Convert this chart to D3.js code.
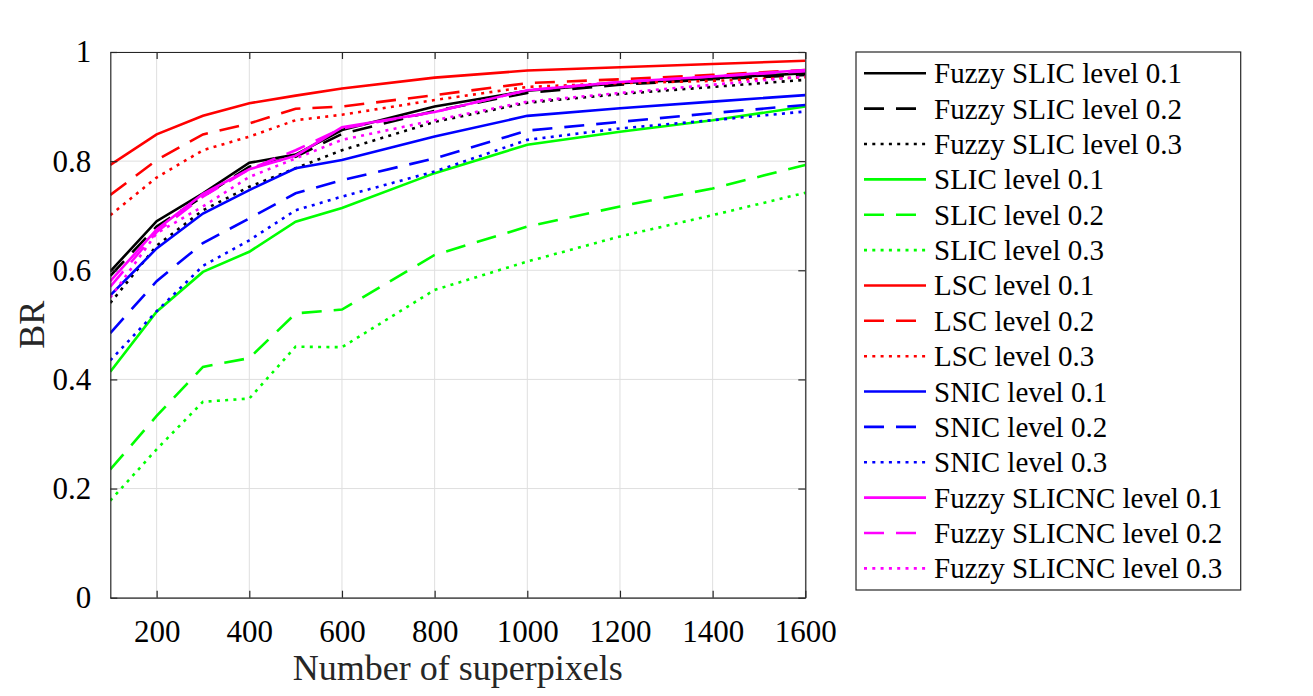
<!DOCTYPE html>
<html>
<head>
<meta charset="utf-8">
</head>
<body style="margin:0;background:#fff;">
<style>
    text {
        font-family: "Liberation Serif", "Times New Roman", serif;
        fill: #000;
    }
    .grid line {
        stroke: #dfdfdf;
        stroke-width: 1px;
    }
    path.series {
        fill: none;
        stroke-width: 2.6px;
    }
</style>
<script src="https://cdn.jsdelivr.net/npm/d3@7/dist/d3.min.js"></script>
<script>

    var xValues = [100, 200, 300, 400, 500, 600, 800, 1000, 1200, 1400, 1600];

    var fuzzySlic1 = [0.598, 0.690, 0.741, 0.797, 0.812, 0.857, 0.900, 0.929, 0.943, 0.952, 0.961];
    var fuzzySlic2 = [0.590, 0.680, 0.735, 0.790, 0.808, 0.850, 0.892, 0.925, 0.940, 0.950, 0.958];
    var fuzzySlic3 = [0.540, 0.645, 0.710, 0.753, 0.787, 0.820, 0.872, 0.907, 0.923, 0.936, 0.949];
    var slic1 = [0.414, 0.524, 0.597, 0.634, 0.689, 0.714, 0.778, 0.830, 0.854, 0.875, 0.900];
    var slic2 = [0.235, 0.333, 0.423, 0.439, 0.521, 0.528, 0.628, 0.680, 0.717, 0.750, 0.793];
    var slic3 = [0.178, 0.272, 0.359, 0.365, 0.460, 0.459, 0.564, 0.616, 0.662, 0.701, 0.742];
    var lsc1 = [0.793, 0.849, 0.883, 0.906, 0.920, 0.933, 0.953, 0.966, 0.972, 0.978, 0.984];
    var lsc2 = [0.738, 0.802, 0.849, 0.869, 0.896, 0.900, 0.921, 0.943, 0.950, 0.958, 0.967];
    var lsc3 = [0.701, 0.770, 0.820, 0.845, 0.875, 0.885, 0.912, 0.936, 0.943, 0.947, 0.954];
    var snic1 = [0.554, 0.640, 0.704, 0.747, 0.787, 0.802, 0.845, 0.883, 0.897, 0.909, 0.921];
    var snic2 = [0.485, 0.580, 0.650, 0.695, 0.741, 0.765, 0.805, 0.856, 0.872, 0.888, 0.903];
    var snic3 = [0.435, 0.525, 0.608, 0.655, 0.710, 0.735, 0.781, 0.839, 0.860, 0.875, 0.891];
    var slicnc1 = [0.580, 0.675, 0.740, 0.785, 0.810, 0.862, 0.890, 0.930, 0.945, 0.955, 0.967];
    var slicnc2 = [0.570, 0.670, 0.735, 0.785, 0.820, 0.860, 0.890, 0.930, 0.945, 0.955, 0.965];
    var slicnc3 = [0.550, 0.668, 0.717, 0.771, 0.805, 0.839, 0.875, 0.909, 0.925, 0.940, 0.955];

    var seriesNames = [
        "Fuzzy SLIC level 0.1", "Fuzzy SLIC level 0.2", "Fuzzy SLIC level 0.3",
        "SLIC level 0.1", "SLIC level 0.2", "SLIC level 0.3",
        "LSC level 0.1", "LSC level 0.2", "LSC level 0.3",
        "SNIC level 0.1", "SNIC level 0.2", "SNIC level 0.3",
        "Fuzzy SLICNC level 0.1", "Fuzzy SLICNC level 0.2", "Fuzzy SLICNC level 0.3"
    ];
    var seriesValues = [
        fuzzySlic1, fuzzySlic2, fuzzySlic3,
        slic1, slic2, slic3,
        lsc1, lsc2, lsc3,
        snic1, snic2, snic3,
        slicnc1, slicnc2, slicnc3
    ];
    var seriesColors = ["#000000", "#00ff00", "#ff0000", "#0000ff", "#ff00ff"];
    var dashStyles = [null, "20,12", "3,5.3"];

    var xTicks = [200, 400, 600, 800, 1000, 1200, 1400, 1600];
    var yTicks = [0, 0.2, 0.4, 0.6, 0.8, 1];
    var yTickLabels = ["0", "0.2", "0.4", "0.6", "0.8", "1"];

    var width = 1313, height = 696;
    // note: "top" is taken by window.top, so use plot* names
    var plotLeft = 110.3, plotRight = 805.3, plotTop = 52, plotBottom = 597.7;

    var svg = d3.select("body").append("svg")
        .attr("width", width)
        .attr("height", height);

    var x = d3.scaleLinear().domain([100, 1600]).range([plotLeft, plotRight]);
    var y = d3.scaleLinear().domain([0, 1]).range([plotBottom, plotTop]);

    // grid
    var grid = svg.append("g").attr("class", "grid");
    grid.selectAll("line.gx").data(xTicks).enter().append("line")
        .attr("x1", x).attr("x2", x).attr("y1", plotTop).attr("y2", plotBottom);
    grid.selectAll("line.gy").data(yTicks).enter().append("line")
        .attr("y1", y).attr("y2", y).attr("x1", plotLeft).attr("x2", plotRight);

    // lines
    svg.append("clipPath").attr("id", "clip")
        .append("rect").attr("x", plotLeft).attr("y", plotTop)
        .attr("width", plotRight - plotLeft).attr("height", plotBottom - plotTop);

    var line = d3.line()
        .x(function (d, i) { return x(xValues[i]); })
        .y(function (d) { return y(d); });

    svg.append("g").attr("clip-path", "url(#clip)")
        .selectAll("path.series")
        .data(seriesValues)
        .enter().append("path")
        .attr("class", "series")
        .attr("d", line)
        .style("stroke", function (d, i) { return seriesColors[Math.floor(i / 3)]; })
        .style("stroke-dasharray", function (d, i) { return dashStyles[i % 3]; });

    // axes (matlab-style box with inward ticks)
    var axisColor = "#262626";
    var tickLen = 7;

    var xBottom = svg.append("g").attr("transform", "translate(0," + plotBottom + ")")
        .call(d3.axisBottom(x).tickValues(xTicks).tickSizeInner(-tickLen).tickSizeOuter(0)
            .tickPadding(22).tickFormat(d3.format("d")));
    var xTop = svg.append("g").attr("transform", "translate(0," + plotTop + ")")
        .call(d3.axisTop(x).tickValues(xTicks).tickSizeInner(-tickLen).tickSizeOuter(0).tickFormat(""));
    var yLeft = svg.append("g").attr("transform", "translate(" + plotLeft + ",0)")
        .call(d3.axisLeft(y).tickValues(yTicks).tickSizeInner(-tickLen).tickSizeOuter(0).tickPadding(19)
            .tickFormat(function (d, i) { return yTickLabels[i]; }));
    var yRight = svg.append("g").attr("transform", "translate(" + plotRight + ",0)")
        .call(d3.axisRight(y).tickValues(yTicks).tickSizeInner(-tickLen).tickSizeOuter(0).tickFormat(""));

    [xBottom, xTop, yLeft, yRight].forEach(function (g) {
        g.select(".domain").attr("stroke", axisColor).attr("stroke-width", 1.2);
        g.selectAll(".tick line").attr("stroke", axisColor).attr("stroke-width", 1.2);
        g.selectAll(".tick text")
            .style("font-family", "'Liberation Serif', serif")
            .style("font-size", "31px")
            .attr("fill", "#262626");
    });

    svg.append("text")
        .attr("x", (plotLeft + plotRight) / 2)
        .attr("y", 680)
        .attr("text-anchor", "middle")
        .style("font-size", "36px")
        .style("fill", "#262626")
        .text("Number of superpixels");

    svg.append("text")
        .attr("transform", "translate(44," + ((plotTop + plotBottom) / 2) + ") rotate(-90)")
        .attr("text-anchor", "middle")
        .style("font-size", "36px")
        .style("fill", "#262626")
        .text("BR");

    // legend
    var legX = 856, legY = 52, legW = 384.7, legH = 538;
    var rowStart = 73.3, rowStep = 35.36;

    var legend = svg.append("g");
    legend.append("rect")
        .attr("x", legX).attr("y", legY)
        .attr("width", legW).attr("height", legH)
        .attr("fill", "#fff")
        .attr("stroke", axisColor)
        .attr("stroke-width", 1.2);

    var rows = legend.selectAll("g.row")
        .data(seriesNames)
        .enter().append("g")
        .attr("transform", function (d, i) { return "translate(0," + (rowStart + i * rowStep) + ")"; });

    rows.append("line")
        .attr("x1", 864).attr("x2", 926)
        .attr("y1", 0).attr("y2", 0)
        .style("stroke-width", 2.6)
        .style("stroke", function (d, i) { return seriesColors[Math.floor(i / 3)]; })
        .style("stroke-dasharray", function (d, i) { return dashStyles[i % 3]; });

    rows.append("text")
        .attr("x", 934)
        .attr("y", 10)
        .style("font-size", "29px")
        .text(function (d) { return d; });

</script>
</body>
</html>
